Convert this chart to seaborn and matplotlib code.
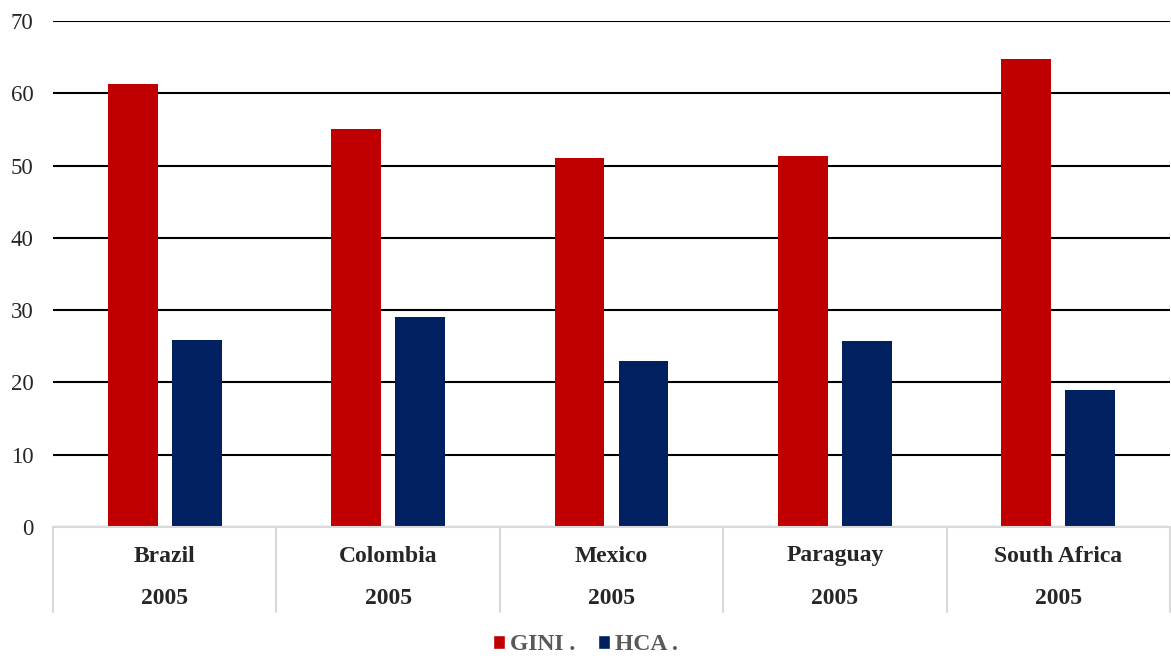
import matplotlib
matplotlib.use("Agg")
import matplotlib.pyplot as plt
import matplotlib.transforms as mtransforms
from matplotlib.patches import Patch
import pandas as pd
import seaborn as sns

countries = ["Brazil", "Colombia", "Mexico", "Paraguay", "South Africa"]
years = ["2005", "2005", "2005", "2005", "2005"]
gini = [61.3, 55.0, 51.1, 51.3, 64.8]
hca = [25.9, 29.1, 23.0, 25.8, 18.9]
series = ["GINI .", "HCA ."]
colors = ["#C00000", "#002060"]

df = pd.DataFrame({
    "country": countries * 2,
    "value": gini + hca,
    "series": [series[0]] * len(countries) + [series[1]] * len(countries),
})

sns.set_style("white")
plt.rcParams["font.family"] = ["Liberation Serif", "DejaVu Serif"]

fig = plt.figure(figsize=(11.71, 6.58), dpi=100)
ax = fig.add_axes([53 / 1171, 1 - 527 / 658, 1117 / 1171, 506 / 658])

sns.barplot(data=df, x="country", y="value", hue="series", palette=colors,
            width=0.573, gap=0.22, ax=ax, legend=False, saturation=1,
            linewidth=0)

ax.set_ylim(0, 70)
ax.set_xlim(-0.5, len(countries) - 0.5)
ax.set_yticks(range(0, 71, 10))
ax.yaxis.grid(True, color="black", linewidth=1.5)
ax.set_axisbelow(True)
for s in ax.spines.values():
    s.set_visible(False)
ax.tick_params(axis="y", length=0, pad=14, labelsize=16.5)
ax.set_xticks([])
ax.set_xlabel("")
ax.set_ylabel("")

# category axis: gray lines and two-level labels
trans = mtransforms.blended_transform_factory(ax.transData, ax.transAxes)
ax.plot([-0.5, len(countries) - 0.5], [0, 0], color="#D9D9D9", lw=1.5,
        transform=trans, clip_on=False)
bottom = -85 / 506
for i in range(len(countries) + 1):
    ax.plot([i - 0.5, i - 0.5], [0, bottom], color="#D9D9D9", lw=1.5,
            transform=trans, clip_on=False)
for i, (c, y) in enumerate(zip(countries, years)):
    ax.text(i, -29 / 506, c, transform=trans, ha="center", va="center",
            fontsize=17, fontweight="bold")
    ax.text(i, -72 / 506, y, transform=trans, ha="center", va="center",
            fontsize=17, fontweight="bold")

handles = [Patch(facecolor=col, label=lab) for col, lab in zip(colors, series)]
leg = fig.legend(handles=handles, loc="center", bbox_to_anchor=(0.5, 13 / 658),
                 ncol=2, frameon=False, handlelength=0.5, handleheight=0.5,
                 handletextpad=0.2, columnspacing=1.0,
                 prop={"size": 17, "weight": "bold"})
for t in leg.get_texts():
    t.set_color("#595959")

fig.savefig("out.png", dpi=100)
